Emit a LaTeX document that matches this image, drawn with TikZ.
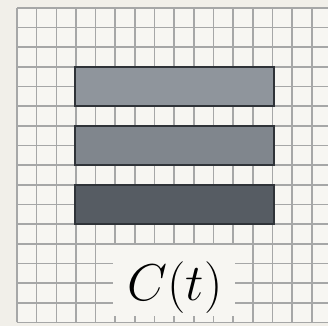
\documentclass[tikz,border=0pt]{standalone}
\usepackage{tikz}
\definecolor{paper}{HTML}{F1EFE9}
\definecolor{cell}{HTML}{F7F6F2}
\definecolor{gridc}{HTML}{A6A7A7}
\definecolor{barA}{HTML}{8F959C}
\definecolor{barB}{HTML}{80868D}
\definecolor{barC}{HTML}{565C63}
\definecolor{edgec}{HTML}{2F3338}
\tikzset{
  bar/.style={draw=edgec, line width=1.4pt, minimum width=199pt, minimum height=39pt, inner sep=0pt, outer sep=0pt},
  gridline/.style={draw=gridc, line width=1.6pt},
  labelbox/.style={fill=cell, minimum width=122pt, minimum height=71pt, inner sep=0pt}
}
\begin{document}
\begin{tikzpicture}[x=1pt,y=1pt]
  \useasboundingbox (0,0) rectangle (328,326);
  \fill[paper] (0,0) rectangle (328,326);
  \fill[cell] (17,3.6) rectangle (328,318);
  \foreach \k in {0,...,16}{
    \draw[gridline] ({17+19.65*\k},3.6) -- ({17+19.65*\k},318);
    \draw[gridline] (17,{318-19.65*\k}) -- (328,{318-19.65*\k});
  }
  \node[bar, fill=barA] (b1) at (174.5,239.5) {};
  \node[bar, fill=barB] (b2) at (174.5,180.5) {};
  \node[bar, fill=barC] (b3) at (174.5,121.5) {};
  \node[labelbox] (lb) at (174,45.5) {};
  \node[inner sep=0pt, anchor=base, scale=2.08] (lbl) at (175,26) {\Huge$C(t)$};
\end{tikzpicture}
\end{document}
